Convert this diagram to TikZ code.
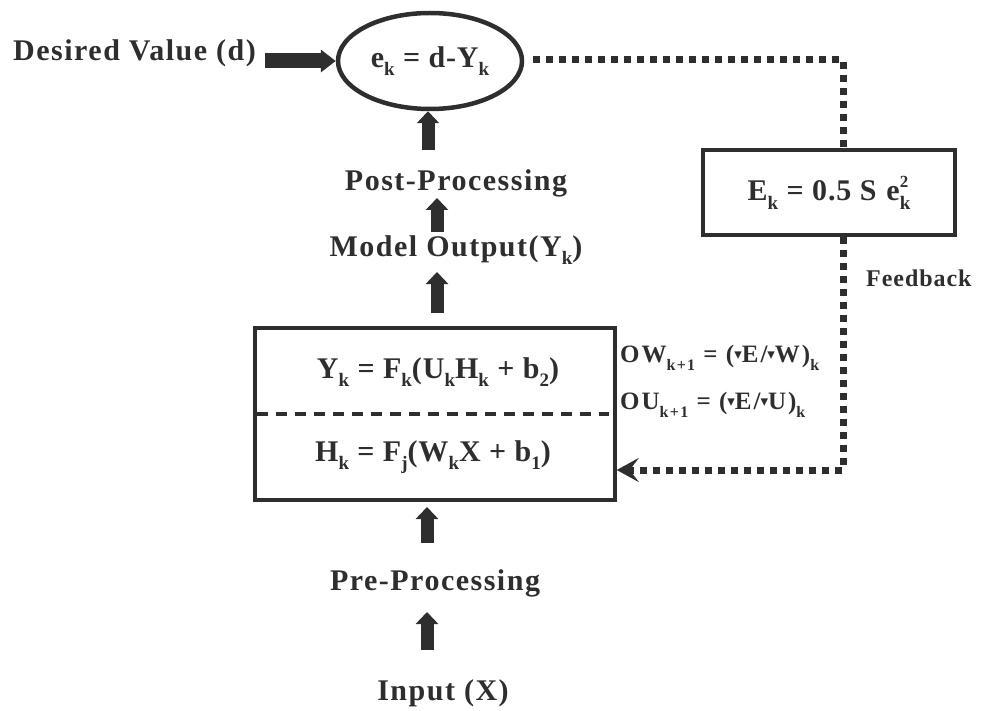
\documentclass[tikz,border=0pt]{standalone}
\usepackage{fontspec}
\setmainfont{Liberation Serif}
\newfontfamily\symf{DejaVu Sans}
\usetikzlibrary{arrows.meta,shapes.geometric,calc}
\definecolor{ink}{gray}{0.18}
\newcommand{\sbs}[1]{\raisebox{-0.28em}{\fontsize{19}{19}\selectfont #1}}
\newcommand{\sbsm}[1]{\raisebox{-0.3em}{\fontsize{16}{16}\selectfont #1}}
\newcommand{\supsb}[2]{\rlap{\raisebox{0.45em}{\fontsize{17}{17}\selectfont #1}}\raisebox{-0.28em}{\fontsize{19}{19}\selectfont #2}}
\newcommand{\tri}{\raisebox{0.12em}{\symf\fontsize{15}{15}\selectfont ▾}}
\begin{document}
\begin{tikzpicture}[x=1pt,y=-1pt,
  lbl/.style={font=\fontsize{30}{32}\selectfont\bfseries\addfontfeature{LetterSpace=5}, inner sep=0pt, text=ink},
  eqn/.style={font=\fontsize{30}{32}\selectfont\bfseries\addfontfeature{LetterSpace=3}, inner sep=0pt, text=ink},
  small/.style={font=\fontsize{25}{27}\selectfont\bfseries\addfontfeature{LetterSpace=8}, inner sep=0pt, text=ink},
  fbst/.style={font=\fontsize{24}{26}\selectfont\bfseries\addfontfeature{LetterSpace=4}, inner sep=0pt, text=ink},
  blockarrow/.style={draw=ink, line width=13pt, -{Triangle[length=12pt,width=22pt]}},
  harrow/.style={draw=ink, line width=15pt, -{Triangle[length=15pt,width=22pt]}},
  feed/.style={draw=ink, line width=7pt, dash pattern=on 7pt off 6pt},
  boxst/.style={draw=ink, line width=3.5pt, inner sep=0pt}]
\useasboundingbox (0,0) rectangle (982,711);
% nodes
\node[lbl, anchor=west] (des) at (13,53) {Desired Value (d)};
\node[ellipse, draw=ink, line width=4.5pt, minimum width=184pt, minimum height=96pt, inner sep=0pt, eqn] (err) at (430,61) {e\sbs{k} = d-Y\sbs{k}};
\node[lbl] (post) at (456,183) {Post-Processing};
\node[lbl] (mout) at (456,250) {Model Output(Y\sbs{k})};
\node[boxst, minimum width=360pt, minimum height=172pt] (nn) at (435,414) {};
\node[eqn] (yeq) at (438,372) {Y\sbs{k} = F\sbs{k}(U\sbs{k}H\sbs{k} + b\sbs{2})};
\node[eqn] (heq) at (433,457) {H\sbs{k} = F\sbs{j}(W\sbs{k}X + b\sbs{1})};
\node[lbl] (pre) at (435,583) {Pre-Processing};
\node[lbl] (inp) at (443,693) {Input (X)};
\node[boxst, minimum width=252pt, minimum height=85pt, eqn] (ebox) at (829,192.5) {E\sbs{k} = 0.5 S\hspace{10pt}e\supsb{2}{k}};
\node[fbst, anchor=west] (fb) at (866,278) {Feedback};
\node[small, anchor=west] (dw) at (620,358) {OW\sbsm{k+1} = (\tri E/\tri W)\sbsm{k}};
\node[small, anchor=west] (du) at (620,405) {OU\sbsm{k+1} = (\tri E/\tri U)\sbsm{k}};
% dashed separator
\draw[ink, line width=3.5pt, dash pattern=on 11pt off 8pt] ([xshift=4pt]nn.west) -- ([xshift=-8pt]nn.east);
% block arrows
\coordinate (a1t) at (428,150);
\coordinate (a2t) at (437,232); \coordinate (a2h) at (437,198);
\coordinate (a3t) at (437,313); \coordinate (a3h) at (437,272);
\coordinate (a4t) at (427,543); \coordinate (a4h) at (427,507);
\coordinate (a5t) at (427,650); \coordinate (a5h) at (427,612);
\draw[blockarrow] (a1t) -- (a1t |- err.south);
\draw[blockarrow] (a2t) -- (a2h);
\draw[blockarrow] (a3t) -- (a3h);
\draw[blockarrow] (a4t) -- (a4h);
\draw[blockarrow] (a5t) -- (a5h);
\draw[harrow] ([xshift=9pt]des.east |- err.west) -- (err.west);
% feedback path
\coordinate (c1) at (843,60);
\coordinate (c2) at (843,470);
\draw[feed, shorten <=9pt] (err.east |- c1) -- (c1) -- (ebox.north -| c1);
\draw[feed, -{Stealth[length=22pt,width=24pt,inset=9pt]}] (ebox.south -| c1) -- (c2) -- (c2 -| nn.east);
\end{tikzpicture}
\end{document}
